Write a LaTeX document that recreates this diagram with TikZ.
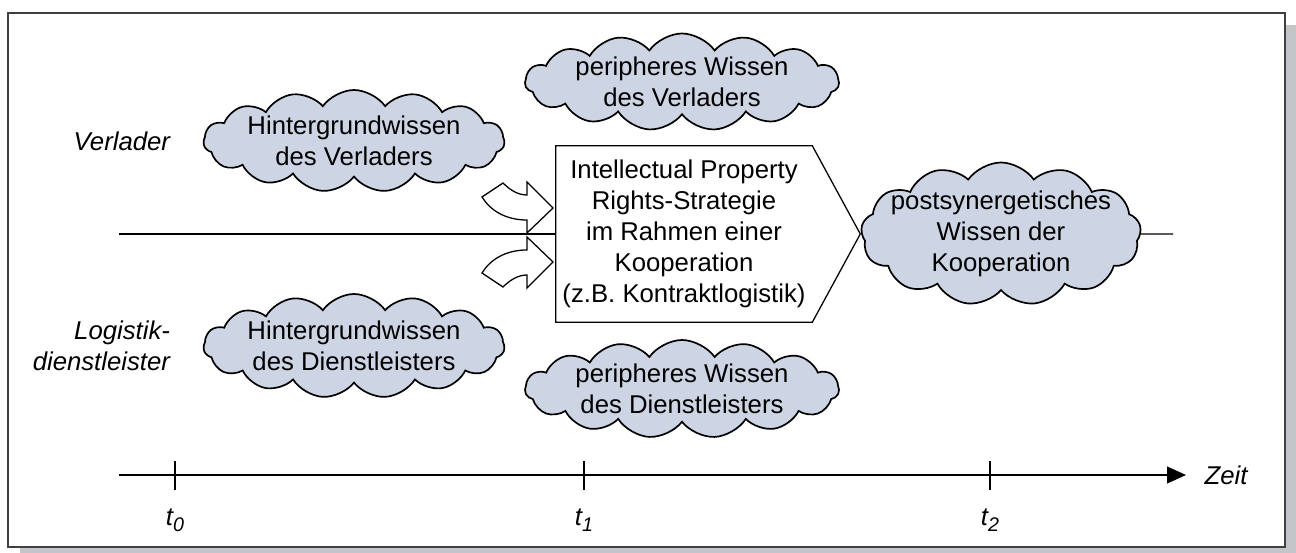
\documentclass[tikz,border=0pt]{standalone}
\usepackage{fontspec}
\setmainfont{Liberation Sans}
\usetikzlibrary{shapes.symbols,arrows.meta}

\definecolor{wolkenblau}{RGB}{205,212,227}
\definecolor{schatten}{RGB}{196,197,201}
\definecolor{rahmengrau}{RGB}{64,64,64}

\newcommand{\schrift}{\fontsize{18.3pt}{22pt}\selectfont}
\newcommand{\zeitpunkt}[1]{t\raisebox{-0.45ex}{\fontsize{14pt}{14pt}\selectfont #1}}

\tikzset{
    linie/.style={line width=0.9pt},
    wolke/.style={draw, cloud, cloud puffs=15, cloud puff arc=110, cloud ignores aspect, fill=wolkenblau, line width=1.2pt, inner sep=0pt},
    wolkentext/.style={align=center, font=\schrift},
    rolle/.style={align=right, anchor=east, font=\schrift\itshape},
    bogenpfeil/.pic={
        \draw[linie, fill=white] (-1.775,0.275) -- (-1.25,0.625)
            .. controls (-1.075,0.45) and (-0.875,0.325) .. (-0.65,0.325)
            -- (-0.65,0.65) -- (0,0) -- (-0.65,-0.625) -- (-0.65,-0.3)
            .. controls (-1.2,-0.3) and (-1.575,-0.05) .. (-1.775,0.275) -- cycle;
    }
}

\begin{document}
\begin{tikzpicture}
            \useasboundingbox (0,0) rectangle (32.4,13.8);
            % Rahmen mit Schatten
            \fill[schatten] (0.5,-0.3) rectangle (32.45,13.175);
            \draw[rahmengrau, line width=1.2pt, fill=white] (0.2,0.125) rectangle (32.125,13.475);

            \node[rolle] (verlader) at (4.375,10.275) {Verlader};
            \node[rolle] (dienstleister) at (4.375,5.15) {Logistik-\\dienstleister};

            \node[wolke, minimum width=7.525cm, minimum height=2.55cm] (hv) at (8.85,10.275) {};
            \node[wolkentext] (hvtext) at (hv) {Hintergrundwissen\\des Verladers};
            \node[wolke, minimum width=7.525cm, minimum height=2.6cm] (hd) at (8.85,5.15) {};
            \node[wolkentext] (hdtext) at (hd) {Hintergrundwissen\\des Dienstleisters};
            \node[wolke, minimum width=7.85cm, minimum height=2.425cm] (pwv) at (17.05,11.75) {};
            \node[wolkentext] (pwvtext) at (pwv) {peripheres Wissen\\des Verladers};
            \node[wolke, minimum width=7.85cm, minimum height=2.45cm] (pwd) at (17.05,4.075) {};
            \node[wolkentext] (pwdtext) at (pwd) {peripheres Wissen\\des Dienstleisters};

            \node[wolkentext, minimum width=6.4cm, minimum height=4.4cm] (ipr) at (17.1,7.95) {Intellectual Property\\Rights-Strategie\\im Rahmen einer\\Kooperation\\(z.B. Kontraktlogistik)};
            \draw[linie] (ipr.north west) -- (ipr.north east) -- ([xshift=1.2cm]ipr.east) -- (ipr.south east) -- (ipr.south west) -- cycle;

            \node[wolke, cloud puffs=13, minimum width=7cm, minimum height=3.575cm] (post) at (25.025,7.95) {};
            \node[wolkentext] (posttext) at (post) {postsynergetisches\\Wissen der\\Kooperation};

            \coordinate (links) at (2.975,7.95);
            \coordinate (rechts) at (29.325,7.95);
            \draw[linie] (links) -- (ipr.west);
            \draw[linie] (post.east) -- (rechts);

            \pic at (13.825,8.6) {bogenpfeil};
            \pic[yscale=-1] at (13.825,7.25) {bogenpfeil};

            % Zeitachse
            \coordinate (achsestart) at (2.975,1.925);
            \coordinate (achseende) at (29.65,1.925);
            \draw[linie, -{Triangle[length=13.5pt,width=12pt]}] (achsestart) -- (achseende);
            \node[font=\schrift\itshape] (zeit) at (30.65,1.925) {Zeit};
            \foreach \x/\i in {4.375/0, 14.6/1, 24.75/2} {
                \draw[linie] (\x,2.275) -- (\x,1.55);
                \node[font=\schrift\itshape] (t\i) at (\x,0.8) {\zeitpunkt{\i}};
            }
        \end{tikzpicture}
\end{document}
